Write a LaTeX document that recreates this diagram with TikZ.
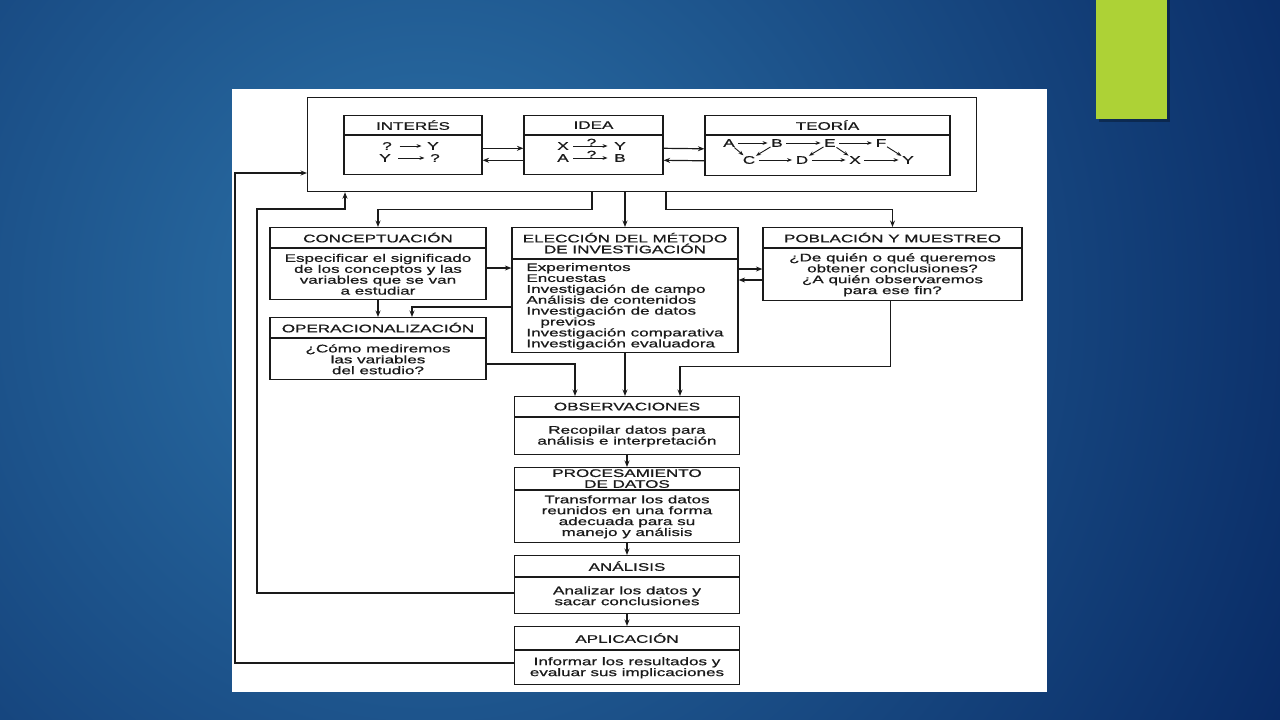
\documentclass[tikz,border=0pt]{standalone}
\usepackage{fontspec}
\setmainfont{Liberation Sans}[FakeStretch=1.55,FakeBold=0.8]
\usetikzlibrary{arrows.meta}
\definecolor{navy}{HTML}{05235E}
\definecolor{skyblue}{HTML}{2D74AA}
\definecolor{lime}{HTML}{ADD236}
\definecolor{ink}{HTML}{1A1A1A}

\begin{document}
\begin{tikzpicture}[x=1pt,y=-1pt,
base/.style={%
draw=ink,
line width=1.2pt,
inner sep=0pt,
text=ink,
font={\fontsize{11pt}{10.9pt}\selectfont},
},
head/.style={%
base,
anchor=north,
align=center,
},
body/.style={%
base,
anchor=north,
align=center,
},
letter/.style={%
inner sep=0.6pt,
text=ink,
font={\fontsize{11pt}{11pt}\selectfont},
},
arr/.style={%
draw=ink,
line width=1.2pt,
-{Stealth[length=6.5pt,width=5pt]},
},
tiny/.style={%
draw=ink,
line width=0.9pt,
-{Stealth[length=5pt,width=3.8pt]},
}
]

%Fondo
\useasboundingbox (0,0) rectangle (1280,720);
\fill[navy] (0,0) rectangle (1280,720);
\begin{scope}
\clip (0,0) rectangle (1280,720);
\shade[inner color=skyblue, outer color=navy] (430,300) circle (1050);
\end{scope}
\fill[black, opacity=.3] (1099,0) rectangle (1170,122);
\fill[lime] (1096,0) rectangle (1167,119);
\fill[white] (232,89) rectangle (1047,692);

%Marco
\node[base, anchor=north west, minimum width=669pt, minimum height=94pt] (frame) at (307,97) {};

%Interes
\node[head, minimum width=138pt, minimum height=19pt] (interesH) at (413,115) {INTERÉS};
\node[body, minimum width=138pt, minimum height=39pt] (interesB) at (interesH.south) {};
\node[letter] (iq1) at (387,146) {?};
\node[letter] (iy1) at (433,146) {Y};
\node[letter] (iy2) at (385,158) {Y};
\node[letter] (iq2) at (435,158) {?};
\draw[tiny, shorten <=7pt, shorten >=5pt] (iq1) -- (iy1);
\draw[tiny, shorten <=7pt, shorten >=5pt] (iy2) -- (iq2);

%Idea
\node[head, minimum width=139pt, minimum height=19pt] (ideaH) at (593.5,115) {IDEA};
\node[body, minimum width=139pt, minimum height=39pt] (ideaB) at (ideaH.south) {};
\node[letter] (dx) at (563,146) {X};
\node[letter] (dy) at (620,146) {Y};
\node[letter] (da) at (563,158) {A};
\node[letter] (db) at (620,158) {B};
\draw[tiny, shorten <=4pt, shorten >=6pt] (dx) -- node[letter, above=-1.5pt] {?} (dy);
\draw[tiny, shorten <=4pt, shorten >=6pt] (da) -- node[letter, above=-1.5pt] {?} (db);

%Teoria
\node[head, minimum width=245pt, minimum height=19pt] (teoriaH) at (827.5,115) {TEORÍA};
\node[body, minimum width=245pt, minimum height=40pt] (teoriaB) at (teoriaH.south) {};
\node[letter] (tA) at (729,143) {A};
\node[letter] (tB) at (777,143) {B};
\node[letter] (tE) at (830,143) {E};
\node[letter] (tF) at (881,143) {F};
\node[letter] (tC) at (749,160) {C};
\node[letter] (tD) at (802,160) {D};
\node[letter] (tX) at (855,160) {X};
\node[letter] (tY) at (908,160) {Y};
\foreach \a/\b in {tA/tB,tB/tE,tE/tF,tC/tD,tD/tX,tX/tY}
  \draw[tiny, shorten <=3pt, shorten >=3pt] (\a) -- (\b);
\foreach \a/\b in {tA/tC,tB/tC,tE/tD,tE/tX,tF/tY}
  \draw[tiny] (\a) -- (\b);

\draw[arr] ([yshift=7pt]interesB.east) -- ([yshift=7pt]ideaB.west);
\draw[arr] ([yshift=-5pt]ideaB.west) -- ([yshift=-5pt]interesB.east);
\draw[arr] ([yshift=7pt]ideaB.east) -- ([yshift=7pt]teoriaB.west);
\draw[arr] ([yshift=-5pt]teoriaB.west) -- ([yshift=-5pt]ideaB.east);

%Conceptuacion
\node[head, minimum width=216pt, minimum height=20pt] (concepH) at (378,227) {CONCEPTUACIÓN};
\node[body, minimum width=216pt, minimum height=51pt] (concepB) at (concepH.south) {Especificar el significado\\de los conceptos y las\\variables que se van\\a estudiar};

%Operacionalizacion
\node[head, minimum width=216pt, minimum height=20pt] (operacH) at (378,317) {OPERACIONALIZACIÓN};
\node[body, minimum width=216pt, minimum height=41pt] (operacB) at (operacH.south) {¿Cómo mediremos\\las variables\\del estudio?};

%Eleccion del metodo
\node[head, minimum width=226pt, minimum height=31pt] (eleccionH) at (625,227) {ELECCIÓN DEL MÉTODO\\DE INVESTIGACIÓN};
\node[body, minimum width=226pt, minimum height=93pt, align=left] (eleccionB) at (eleccionH.south) {Experimentos\\Encuestas\\Investigación de campo\\Análisis de contenidos\\Investigación de datos\\\hspace*{14pt}previos\\Investigación comparativa\\Investigación evaluadora};

%Poblacion
\node[head, minimum width=259pt, minimum height=20pt] (poblacH) at (892.5,227) {POBLACIÓN Y MUESTREO};
\node[body, minimum width=259pt, minimum height=52pt] (poblacB) at (poblacH.south) {¿De quién o qué queremos\\obtener conclusiones?\\¿A quién observaremos\\para ese fin?};

%Observaciones
\node[head, minimum width=225pt, minimum height=20pt] (observH) at (627,396) {OBSERVACIONES};
\node[body, minimum width=225pt, minimum height=37pt] (observB) at (observH.south) {Recopilar datos para\\análisis e interpretación};

%Procesamiento
\node[head, minimum width=225pt, minimum height=22pt] (procesH) at (627,467) {PROCESAMIENTO\\DE DATOS};
\node[body, minimum width=225pt, minimum height=52pt] (procesB) at (procesH.south) {Transformar los datos\\reunidos en una forma\\adecuada para su\\manejo y análisis};

%Analisis
\node[head, minimum width=225pt, minimum height=21pt] (analisisH) at (627,555) {ANÁLISIS};
\node[body, minimum width=225pt, minimum height=36pt] (analisisB) at (analisisH.south) {Analizar los datos y\\sacar conclusiones};

%Aplicacion
\node[head, minimum width=225pt, minimum height=23pt] (aplicH) at (627,626) {APLICACIÓN};
\node[body, minimum width=225pt, minimum height=34pt] (aplicB) at (aplicH.south) {Informar los resultados y\\evaluar sus implicaciones};

%Conexiones
\draw[arr] (frame.south -| 592,0) -- ++(0,17) -| (concepH.north);
\draw[arr] (frame.south -| eleccionH.north) -- (eleccionH.north);
\draw[arr] (frame.south -| 666,0) -- ++(0,17) -| (poblacH.north);
\draw[arr] (concepB.east |- 0,268) -- (eleccionB.west |- 0,268);
\draw[arr] (eleccionB.east |- 0,269) -- (poblacB.west |- 0,269);
\draw[arr] (poblacB.west |- 0,280) -- (eleccionB.east |- 0,280);
\draw[arr] (concepB.south) -- (operacH.north);
\draw[arr] (eleccionB.west |- 0,307) -| ([xshift=34pt]operacH.north);
\draw[arr] (operacB.east |- 0,364) -| ([xshift=-52pt]observH.north);
\draw[arr] (eleccionB.south) -- (eleccionB.south |- observH.north);
\draw[arr] ([xshift=-2pt]poblacB.south) -- ++(0,65) -| ([xshift=53pt]observH.north);
\draw[arr] (observB.south) -- (procesH.north);
\draw[arr] (procesB.south) -- (analisisH.north);
\draw[arr] (analisisB.south) -- (aplicH.north);

%Retroalimentacion
\draw[arr] (analisisB.west |- 0,593) -| (257,209) -| (frame.south -| 345,0);
\draw[arr] (aplicB.west |- 0,663) -| (235,173) -- (frame.west |- 0,173);
\end{tikzpicture}
\end{document}
